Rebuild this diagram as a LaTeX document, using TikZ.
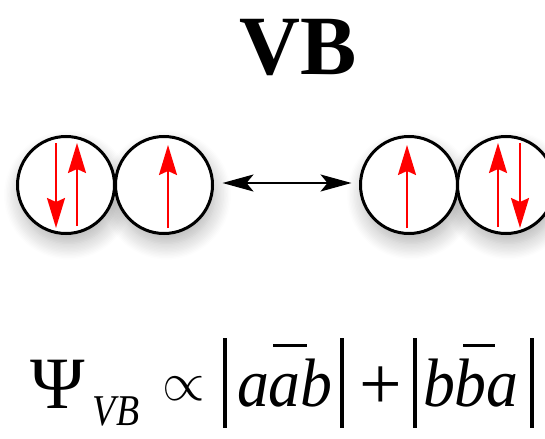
\documentclass[tikz,border=0pt]{standalone}
\usepackage{fontspec}
\setmainfont{Liberation Serif}
\usetikzlibrary{arrows.meta, calc, backgrounds, shadows.blur}
\definecolor{spinRed}{HTML}{FF0000}
\tikzset{
  every node/.style={inner sep=0pt, outer sep=0pt},
  atom/.style={draw, circle, minimum size=19.4mm, line width=0.6mm, fill=white},
  soft/.style={blur shadow={shadow xshift=0.5mm, shadow yshift=-2mm, shadow blur radius=3.2mm,
                 shadow blur steps=12, shadow opacity=30}},
  spin/.style={spinRed, line width=0.4mm, -{Stealth[length=6mm, width=3.6mm, inset=0.8mm]}},
  swap/.style={line width=0.4mm,
    {Stealth[length=6.2mm, width=3.4mm, inset=1.4mm]}-{Stealth[length=6.2mm, width=3.4mm, inset=1.4mm]}},
  ketbar/.style={line width=0.66mm},
  ovl/.style={line width=0.6mm},
  ttl/.style={font=\fontsize{48}{52}\selectfont\bfseries},
  ketxt/.style={font=\fontsize{39}{42}\selectfont\itshape, xscale=0.93},
  subscr/.style={font=\fontsize{25}{28}\selectfont\itshape, xscale=0.86},
}

\begin{document}
\begin{tikzpicture}[x=0.2mm, y=-0.2mm]
  \useasboundingbox (0,0) rectangle (545,438);
  % title
  \node[ttl, anchor=base] (title) at (298,74) {VB};
  % left structure: a pair on A, one on B
  \node[atom] (c1) at (66,185) {};
  \node[atom] (c2) at (164,185) {};
  \draw[spin] ($(c1)+(-10,-42)$) -- ($(c1)+(-10,43)$);
  \draw[spin] ($(c1)+(11,41)$) -- ($(c1)+(11,-42)$);
  \draw[spin] ($(c2)+(4,43)$) -- ($(c2)+(4,-40)$);
  % right structure: one on A, a pair on B
  \node[atom] (c3) at (409,185) {};
  \node[atom] (c4) at (506,185) {};
  \draw[spin] ($(c3)+(-2,43)$) -- ($(c3)+(-2,-40)$);
  \draw[spin] ($(c4)+(-8,42)$) -- ($(c4)+(-8,-42)$);
  \draw[spin] ($(c4)+(14,-42)$) -- ($(c4)+(14,43)$);
  % shadows behind all atoms
  \begin{scope}[on background layer]
    \foreach \at in {c1,c2,c3,c4}
      \path[soft] (\at) circle[radius=9.7mm];
  \end{scope}
  % resonance
  \draw[swap, shorten <=2mm, shorten >=1.8mm] ([yshift=0.4mm]c2.east) -- ([yshift=0.4mm]c3.west);
  % wave function
  \node[font=\fontsize{42}{46}\selectfont, anchor=base] (psi) at (58,408) {Ψ};
  \node[subscr, anchor=base] (vb) at (116,425) {VB};
  \node[font=\fontsize{24.88}{28}\selectfont, scale=1.25] (prop) at (184,389) {$\propto$};
  \draw[ketbar] (225,338) -- (225,428);
  \node[ketxt, anchor=base west] (k1) at (237,406) {aab};
  \draw[ovl] ($(k1.base west)+(36,-61)$) -- ++(34,0);
  \draw[ketbar] (342,338) -- (342,428);
  \node[font=\fontsize{43}{46}\selectfont, anchor=base] (plus) at (381,409) {+};
  \draw[ketbar] (415,338) -- (415,428);
  \node[ketxt, anchor=base west] (k2) at (423,406) {bba};
  \draw[ovl] ($(k2.base west)+(40,-61)$) -- ++(32,0);
  \draw[ketbar] (532,338) -- (532,428);
\end{tikzpicture}
\end{document}
